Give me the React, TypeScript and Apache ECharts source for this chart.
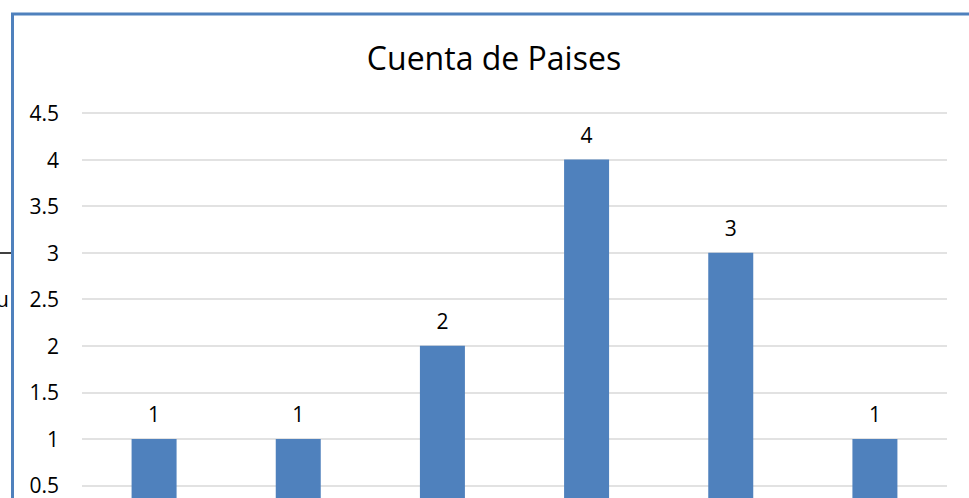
import React, { useEffect, useRef } from "react";
import * as echarts from "echarts";

const categories = ["País 1", "País 2", "País 3", "País 4", "País 5", "País 6"];
const counts = [1, 1, 2, 4, 3, 1];
const titleText = "Cuenta de Paises";

export default function App() {
  const ref = useRef<HTMLDivElement>(null);
  useEffect(() => {
    document.body.style.margin = "0";
    const chart = echarts.init(ref.current!, null, { renderer: "svg" });
    const font = "'Open Sans', 'Noto Sans', sans-serif";
    chart.setOption({
      animation: false,
      backgroundColor: "#ffffff",
      title: {
        text: titleText,
        left: 489,
        textAlign: "center",
        top: 36,
        textStyle: { fontFamily: font, fontSize: 32, fontWeight: "normal", color: "#000" },
      },
      grid: { left: 82, right: 22, top: 113, bottom: 28, containLabel: false },
      xAxis: {
        type: "category",
        data: categories,
        axisLine: { lineStyle: { color: "#d9d9d9" } },
        axisTick: { show: false },
        axisLabel: { show: false },
      },
      yAxis: {
        type: "value",
        min: 0,
        max: 4.5,
        interval: 0.5,
        axisLine: { show: false },
        axisTick: { show: false },
        axisLabel: { fontFamily: font, fontSize: 21, color: "#000", margin: 23 },
        splitLine: { lineStyle: { color: "#d9d9d9", width: 1.5 } },
      },
      series: [
        {
          type: "bar",
          data: counts,
          barWidth: 45,
          itemStyle: { color: "#4f81bd" },
          label: {
            show: true,
            position: "top",
            distance: 14,
            fontFamily: font,
            fontSize: 21,
            color: "#000",
          },
        },
      ],
      graphic: [
        {
          type: "rect",
          shape: { x: 12.5, y: 14, width: 1100, height: 1000 },
          style: { fill: "none", stroke: "#4f81bd", lineWidth: 3 },
          silent: true,
        },
        {
          type: "line",
          shape: { x1: 0, y1: 253, x2: 11, y2: 253 },
          style: { stroke: "#000", lineWidth: 1.5 },
        },
        {
          type: "text",
          x: -4,
          y: 299,
          style: { text: "u", fontFamily: font, fontSize: 21, fill: "#000", verticalAlign: "middle" },
        },
      ],
    });
    return () => chart.dispose();
  }, []);
  return <div ref={ref} style={{ position: "absolute", left: 0, top: 0, width: 969, height: 560 }} />;
}
